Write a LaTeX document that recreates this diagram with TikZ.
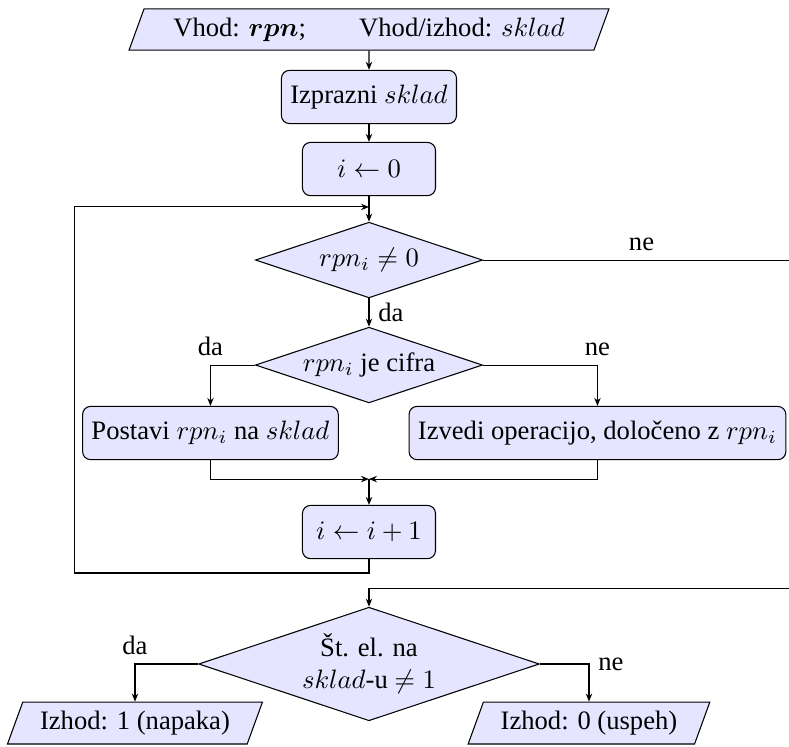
\documentclass[tikz,border=0pt]{standalone}
\usepackage[no-math]{fontspec}
\setmainfont{Liberation Serif}
\usepackage{bm}
\usetikzlibrary{shapes.geometric, arrows.meta}

\begin{document}
\begin{tikzpicture}[
    io/.style={trapezium, trapezium left angle=70, trapezium right angle=110, draw, fill=blue!10, inner xsep=6.5pt},
    process/.style={rectangle, draw, fill=blue!10, rounded corners=3pt, minimum width=5em, minimum height=2em},
    decision/.style={diamond, draw, fill=blue!10, aspect=3, inner sep=1pt, minimum width=3cm, minimum height=1cm},
    arrow/.style={-{Stealth[length=3pt, width=2.4pt]}}
]
    \useasboundingbox (-4.874,0) rectangle (5.548,-9.855);
    \clip (-4.874,0) rectangle (5.548,-9.855);

    % Start
    \node[io, inner xsep=11pt] (input) at (0,-0.390) {Vhod: $\bm{rpn}$;\qquad Vhod/izhod: $sklad$};
    \node[process] (clear) at (0,-1.281) {Izprazni $sklad$};
    \node[process] (init) at (0,-2.233) {$i \leftarrow 0$};

    % Loop over rpn
    \node[decision] (notend) at (0,-3.435) {$rpn_i \neq 0$};
    \node[decision] (isdigit) at (0,-4.822) {$rpn_i$ je cifra};
    \node[process] (push) at (-2.094,-5.720) {Postavi $rpn_i$ na $sklad$};
    \node[process] (operate) at (3.018,-5.720) {Izvedi operacijo, določeno z $rpn_i$};
    \node[process] (next) at (0,-7.028) {$i \leftarrow i+1$};

    % Result
    \node[decision, minimum width=4.5cm, minimum height=1.5cm, align=center] (count) at (0,-8.771) {Št. el. na\\$sklad$-u $\neq 1$};
    \node[io] (error) at (-3.091,-9.551) {Izhod: 1 (napaka)};
    \node[io] (success) at (2.906,-9.551) {Izhod: 0 (uspeh)};

    % Corners of the connectors
    \coordinate (loopin) at (0,-2.734);
    \coordinate (merge) at (0,-6.328);
    \coordinate (loopcorner) at (-3.890,-7.569);
    \coordinate (exitcorner) at (5.693,-7.768);

    % Arrows
    \draw[arrow] (input) -- (clear);
    \draw[arrow] (clear) -- (init);
    \draw[arrow] (init) -- (notend);
    \draw[arrow] (notend) -- node[right] {da} (isdigit);
    \draw[arrow] (isdigit) -| node[above] {da} (push);
    \draw[arrow] (isdigit) -| node[above] {ne} (operate);
    \draw[arrow] (push) |- (merge);
    \draw[arrow] (operate) |- (merge);
    \draw[arrow] (merge) -- (next);
    \draw[arrow] (next) |- (loopcorner) |- (loopin);
    \draw[arrow] (notend) -| node[pos=0.25, above] {ne} (exitcorner) -| (count);
    \draw[arrow] (count) -| node[above] {da} (error);
    \draw[arrow] (count) -| node[right] {ne} (success);
\end{tikzpicture}
\end{document}
